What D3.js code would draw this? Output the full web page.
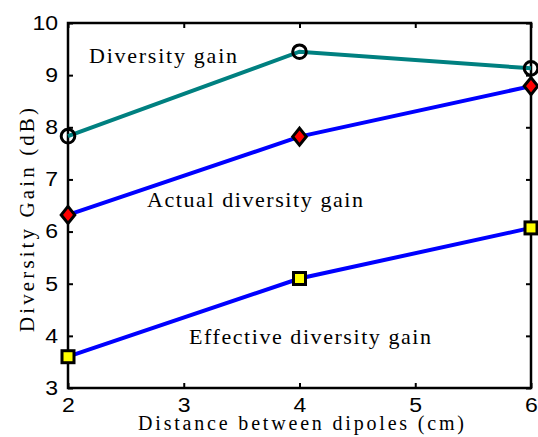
<!DOCTYPE html>
<html>
<head>
<meta charset="utf-8">
<script src="https://cdn.jsdelivr.net/npm/d3@7"></script>
<style>
html,body{margin:0;padding:0;background:#fff;}
svg{display:block;}
</style>
</head>
<body>
<svg id="chart" width="538" height="437"></svg>
<script>
const distances = [2, 4, 6];
const diversityGain = [7.83, 9.45, 9.13];
const actualGain = [6.32, 7.82, 8.79];
const effectiveGain = [3.60, 5.10, 6.07];
const xTicks = [2, 3, 4, 5, 6];
const yTicks = [3, 4, 5, 6, 7, 8, 9, 10];
const seriesNames = ["Diversity gain", "Actual diversity gain", "Effective diversity gain"];
const xLabel = "Distance between dipoles (cm)";
const yLabel = "Diversity Gain (dB)";

const svg = d3.select("#chart");
const L = 68, R = 531, T = 23, B = 388;
const x = d3.scaleLinear().domain([2, 6]).range([L, R]);
const y = d3.scaleLinear().domain([3, 10]).range([B, T]);
const STRETCH = 1.15;

function stretchText(sel, factor) {
  sel.each(function() {
    const w = this.getComputedTextLength();
    d3.select(this).attr("textLength", w * factor).attr("lengthAdjust", "spacingAndGlyphs");
  });
}

// axes (MATLAB-like box with inward ticks)
const gx = svg.append("g").attr("transform", `translate(0,${B})`)
  .call(d3.axisBottom(x).tickValues(xTicks).tickSize(-5).tickPadding(10).tickFormat(d3.format("d")));
const gxt = svg.append("g").attr("transform", `translate(0,${T})`)
  .call(d3.axisTop(x).tickValues(xTicks).tickSize(-5).tickFormat(""));
const gy = svg.append("g").attr("transform", `translate(${L},0)`)
  .call(d3.axisLeft(y).tickValues(yTicks).tickSize(-5).tickPadding(10).tickFormat(d3.format("d")));
const gyr = svg.append("g").attr("transform", `translate(${R},0)`)
  .call(d3.axisRight(y).tickValues(yTicks).tickSize(-5).tickFormat(""));

[gx, gxt, gy, gyr].forEach(g => {
  g.select(".domain").remove();
  g.selectAll(".tick line").attr("stroke", "#000").attr("stroke-width", 2);
  g.selectAll("text").attr("font-family", "'Liberation Sans', Arial, sans-serif")
    .attr("font-size", 20).attr("fill", "#000");
});
gx.selectAll("text").attr("dy", "0.71em");
stretchText(gx.selectAll("text"), STRETCH);
stretchText(gy.selectAll("text"), STRETCH);

svg.append("rect").attr("x", L).attr("y", T).attr("width", R - L).attr("height", B - T)
  .attr("fill", "none").attr("stroke", "#000").attr("stroke-width", 2.5);

// lines
const series = [
  {vals: diversityGain, color: "#008080", marker: "circle"},
  {vals: actualGain, color: "#0000ff", marker: "diamond"},
  {vals: effectiveGain, color: "#0000ff", marker: "square"}
];
const line = d3.line().x(d => x(d[0])).y(d => y(d[1]));
series.forEach(s => {
  const pts = distances.map((d, i) => [d, s.vals[i]]);
  svg.append("path").datum(pts).attr("d", line)
    .attr("fill", "none").attr("stroke", s.color).attr("stroke-width", 4);
});
series.forEach(s => {
  const pts = distances.map((d, i) => [d, s.vals[i]]);
  const g = svg.append("g");
  if (s.marker === "circle") {
    g.selectAll("circle").data(pts).join("circle")
      .attr("cx", d => x(d[0])).attr("cy", d => y(d[1])).attr("r", 6.8)
      .attr("fill", "none").attr("stroke", "#000").attr("stroke-width", 3);
  } else if (s.marker === "diamond") {
    g.selectAll("path").data(pts).join("path")
      .attr("d", d => { const cx = x(d[0]), cy = y(d[1]);
        return `M${cx},${cy-8.5}L${cx+6.8},${cy}L${cx},${cy+8.5}L${cx-6.8},${cy}Z`; })
      .attr("fill", "#ff0000").attr("stroke", "#000").attr("stroke-width", 3).attr("stroke-linejoin", "miter");
  } else {
    g.selectAll("rect").data(pts).join("rect")
      .attr("x", d => x(d[0]) - 6).attr("y", d => y(d[1]) - 6).attr("width", 12).attr("height", 12)
      .attr("fill", "#ffff00").attr("stroke", "#000").attr("stroke-width", 3);
  }
});

// annotations
const serif = "Liberation Serif";
const ann = [
  {t: seriesNames[0], x: 89, y: 63, len: 148},
  {t: seriesNames[1], x: 147, y: 207, len: 216},
  {t: seriesNames[2], x: 189, y: 344, len: 242}
];
ann.forEach(a => {
  svg.append("text").attr("x", a.x).attr("y", a.y).text(a.t)
    .attr("font-family", serif).attr("font-size", 22).attr("fill", "#000")
    .attr("textLength", a.len).attr("lengthAdjust", "spacing");
});

svg.append("text").attr("x", 138).attr("y", 430).text(xLabel)
  .attr("font-family", serif).attr("font-size", 20).attr("fill", "#000")
  .attr("textLength", 326).attr("lengthAdjust", "spacing");

svg.append("text").attr("transform", `translate(34,220) rotate(-90)`)
  .attr("text-anchor", "middle").text(yLabel)
  .attr("font-family", serif).attr("font-size", 21).attr("fill", "#000")
  .attr("textLength", 224).attr("lengthAdjust", "spacing");
</script>
</body>
</html>
